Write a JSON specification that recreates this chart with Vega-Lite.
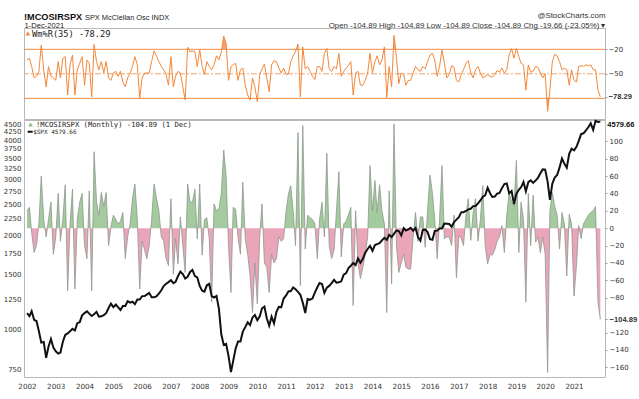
{
"$schema": "https://vega.github.io/schema/vega-lite/v6.json",
"background": "white",
"padding": {"left": 2, "right": 0, "top": 10, "bottom": 2},
"config": {"view": {"stroke": "#b8b8b8", "strokeWidth": 1}, "font": "Liberation Sans",
  "axis": {"grid": false, "labelFont": "DejaVu Sans", "labelFontSize": 7, "labelColor": "#333", "domain": false, "ticks": false, "minExtent": 0, "labelOverlap": false, "labelFlush": false}},
"title": {"text": "SPX McClellan Osc INDX", "anchor": "start", "frame": "group", "dx": 61, "offset": -11, "fontSize": 7.4, "fontWeight": "normal", "color": "#222", "font": "Liberation Sans"},
"bounds": "flush",
"spacing": 1,
"data": {"values": [
{"d":"2002-01-01","s":1130.2,"m":20,"w":-33},{"d":"2002-02-01","s":1106.73,"m":24,"w":-31},{"d":"2002-03-01","s":1147.39,"m":-5,"w":-41},{"d":"2002-04-01","s":1076.92,"m":-28,"w":-55},{"d":"2002-05-01","s":1067.14,"m":-20,"w":-53},{"d":"2002-06-01","s":989.82,"m":5,"w":-47},{"d":"2002-07-01","s":911.62,"m":60,"w":-15},{"d":"2002-08-01","s":916.07,"m":10,"w":-45},{"d":"2002-09-01","s":815.28,"m":-10,"w":-66},{"d":"2002-10-01","s":885.76,"m":10,"w":-41},{"d":"2002-11-01","s":936.31,"m":30,"w":-53},{"d":"2002-12-01","s":879.82,"m":-30,"w":-55},
{"d":"2003-01-01","s":855.7,"m":-10,"w":-58},{"d":"2003-02-01","s":841.15,"m":40,"w":-35},{"d":"2003-03-01","s":848.18,"m":-15,"w":-55},{"d":"2003-04-01","s":916.92,"m":10,"w":-31},{"d":"2003-05-01","s":963.59,"m":50,"w":-29},{"d":"2003-06-01","s":974.5,"m":-72,"w":-76},{"d":"2003-07-01","s":990.31,"m":5,"w":-39},{"d":"2003-08-01","s":1008.01,"m":45,"w":-27},{"d":"2003-09-01","s":995.97,"m":-70,"w":-76},{"d":"2003-10-01","s":1050.71,"m":10,"w":-45},{"d":"2003-11-01","s":1058.2,"m":30,"w":-37},{"d":"2003-12-01","s":1111.92,"m":40,"w":-29},
{"d":"2004-01-01","s":1131.13,"m":-20,"w":-64},{"d":"2004-02-01","s":1144.94,"m":-35,"w":-33},{"d":"2004-03-01","s":1126.21,"m":43,"w":-37},{"d":"2004-04-01","s":1107.3,"m":-72,"w":-78},{"d":"2004-05-01","s":1120.68,"m":88,"w":-14},{"d":"2004-06-01","s":1140.84,"m":30,"w":-35},{"d":"2004-07-01","s":1101.72,"m":15,"w":-45},{"d":"2004-08-01","s":1104.24,"m":41,"w":-35},{"d":"2004-09-01","s":1114.58,"m":25,"w":-49},{"d":"2004-10-01","s":1130.2,"m":41,"w":-35},{"d":"2004-11-01","s":1173.82,"m":-20,"w":-55},{"d":"2004-12-01","s":1211.92,"m":2,"w":-58},
{"d":"2005-01-01","s":1181.27,"m":15,"w":-49},{"d":"2005-02-01","s":1203.6,"m":10,"w":-47},{"d":"2005-03-01","s":1180.59,"m":5,"w":-53},{"d":"2005-04-01","s":1156.85,"m":8,"w":-47},{"d":"2005-05-01","s":1191.5,"m":18,"w":-60},{"d":"2005-06-01","s":1191.33,"m":-35,"w":-66},{"d":"2005-07-01","s":1234.18,"m":-10,"w":-55},{"d":"2005-08-01","s":1220.33,"m":5,"w":-49},{"d":"2005-09-01","s":1228.81,"m":35,"w":-41},{"d":"2005-10-01","s":1207.01,"m":51,"w":-29},{"d":"2005-11-01","s":1249.48,"m":10,"w":-39},{"d":"2005-12-01","s":1248.29,"m":-70,"w":-80},
{"d":"2006-01-01","s":1280.08,"m":-15,"w":-55},{"d":"2006-02-01","s":1280.66,"m":-25,"w":-49},{"d":"2006-03-01","s":1294.83,"m":-35,"w":-49},{"d":"2006-04-01","s":1310.61,"m":-20,"w":-49},{"d":"2006-05-01","s":1270.09,"m":10,"w":-35},{"d":"2006-06-01","s":1270.2,"m":51,"w":-22},{"d":"2006-07-01","s":1276.66,"m":35,"w":-28},{"d":"2006-08-01","s":1303.82,"m":20,"w":-35},{"d":"2006-09-01","s":1335.85,"m":-10,"w":-41},{"d":"2006-10-01","s":1377.94,"m":-15,"w":-45},{"d":"2006-11-01","s":1400.63,"m":-35,"w":-51},{"d":"2006-12-01","s":1418.3,"m":-43,"w":-64},
{"d":"2007-01-01","s":1438.24,"m":34,"w":-29},{"d":"2007-02-01","s":1406.82,"m":-53,"w":-66},{"d":"2007-03-01","s":1420.86,"m":-12,"w":-53},{"d":"2007-04-01","s":1482.37,"m":-41,"w":-47},{"d":"2007-05-01","s":1530.62,"m":13,"w":-49},{"d":"2007-06-01","s":1503.35,"m":-20,"w":-66},{"d":"2007-07-01","s":1455.27,"m":-51,"w":-82},{"d":"2007-08-01","s":1473.99,"m":51,"w":-17.5},{"d":"2007-09-01","s":1526.75,"m":30,"w":-23},{"d":"2007-10-01","s":1549.38,"m":30,"w":-22},{"d":"2007-11-01","s":1481.14,"m":45,"w":-23},{"d":"2007-12-01","s":1468.36,"m":-12,"w":-41},
{"d":"2008-01-01","s":1378.55,"m":51,"w":-20},{"d":"2008-02-01","s":1330.63,"m":-31,"w":-41},{"d":"2008-03-01","s":1322.7,"m":10,"w":-51},{"d":"2008-04-01","s":1385.59,"m":12,"w":-35},{"d":"2008-05-01","s":1400.38,"m":-12,"w":-41},{"d":"2008-06-01","s":1280.0,"m":-85,"w":-45},{"d":"2008-07-01","s":1267.38,"m":28,"w":-39},{"d":"2008-08-01","s":1282.83,"m":20,"w":-28},{"d":"2008-09-01","s":1166.36,"m":22,"w":-33},{"d":"2008-10-01","s":968.75,"m":40,"w":-23},{"d":"2008-11-01","s":896.24,"m":90,"w":-3.7},{"d":"2008-12-01","s":903.25,"m":60,"w":-12.7},
{"d":"2009-01-01","s":825.88,"m":-20,"w":-58},{"d":"2009-02-01","s":735.09,"m":-74,"w":-41},{"d":"2009-03-01","s":797.87,"m":24,"w":-39},{"d":"2009-04-01","s":872.81,"m":22,"w":-37},{"d":"2009-05-01","s":919.14,"m":-10,"w":-58},{"d":"2009-06-01","s":919.32,"m":-30,"w":-45},{"d":"2009-07-01","s":987.48,"m":53,"w":-43},{"d":"2009-08-01","s":1020.62,"m":-12,"w":-64},{"d":"2009-09-01","s":1057.08,"m":-30,"w":-76},{"d":"2009-10-01","s":1036.19,"m":-55,"w":-82},{"d":"2009-11-01","s":1095.63,"m":-97,"w":-55},{"d":"2009-12-01","s":1115.1,"m":-40,"w":-66},
{"d":"2010-01-01","s":1073.87,"m":-87,"w":-84},{"d":"2010-02-01","s":1104.49,"m":-10,"w":-51},{"d":"2010-03-01","s":1169.43,"m":28,"w":-44},{"d":"2010-04-01","s":1186.69,"m":-40,"w":-38},{"d":"2010-05-01","s":1089.41,"m":-45,"w":-55},{"d":"2010-06-01","s":1030.71,"m":-74,"w":-72},{"d":"2010-07-01","s":1101.6,"m":-30,"w":-39},{"d":"2010-08-01","s":1049.33,"m":-40,"w":-34},{"d":"2010-09-01","s":1141.2,"m":-35,"w":-35},{"d":"2010-10-01","s":1183.26,"m":-10,"w":-43},{"d":"2010-11-01","s":1180.55,"m":-15,"w":-49},{"d":"2010-12-01","s":1257.64,"m":-12,"w":-43},
{"d":"2011-01-01","s":1286.12,"m":20,"w":-51},{"d":"2011-02-01","s":1327.22,"m":40,"w":-50},{"d":"2011-03-01","s":1325.83,"m":49,"w":-35},{"d":"2011-04-01","s":1363.61,"m":20,"w":-28},{"d":"2011-05-01","s":1345.2,"m":-20,"w":-23},{"d":"2011-06-01","s":1320.64,"m":110,"w":-13.5},{"d":"2011-07-01","s":1292.28,"m":-66,"w":-78},{"d":"2011-08-01","s":1218.89,"m":118,"w":-17},{"d":"2011-09-01","s":1131.42,"m":-24,"w":-44},{"d":"2011-10-01","s":1253.3,"m":15,"w":-41},{"d":"2011-11-01","s":1246.96,"m":12,"w":-47},{"d":"2011-12-01","s":1257.6,"m":10,"w":-53},
{"d":"2012-01-01","s":1312.41,"m":5,"w":-57},{"d":"2012-02-01","s":1365.68,"m":-35,"w":-41},{"d":"2012-03-01","s":1408.47,"m":10,"w":-41},{"d":"2012-04-01","s":1397.91,"m":30,"w":-47},{"d":"2012-05-01","s":1310.33,"m":-10,"w":-25},{"d":"2012-06-01","s":1362.16,"m":86,"w":-19},{"d":"2012-07-01","s":1379.32,"m":-20,"w":-44},{"d":"2012-08-01","s":1406.58,"m":-35,"w":-47},{"d":"2012-09-01","s":1440.67,"m":-25,"w":-41},{"d":"2012-10-01","s":1412.16,"m":20,"w":-44},{"d":"2012-11-01","s":1416.18,"m":65,"w":-25},{"d":"2012-12-01","s":1426.19,"m":-33,"w":-53},
{"d":"2013-01-01","s":1498.11,"m":5,"w":-47},{"d":"2013-02-01","s":1514.68,"m":8,"w":-43},{"d":"2013-03-01","s":1569.19,"m":15,"w":-40},{"d":"2013-04-01","s":1597.57,"m":24,"w":-35},{"d":"2013-05-01","s":1630.74,"m":-89,"w":-76},{"d":"2013-06-01","s":1606.28,"m":20,"w":-49},{"d":"2013-07-01","s":1685.73,"m":-40,"w":-47},{"d":"2013-08-01","s":1632.97,"m":-58,"w":-64},{"d":"2013-09-01","s":1681.55,"m":-45,"w":-64},{"d":"2013-10-01","s":1756.54,"m":-30,"w":-58},{"d":"2013-11-01","s":1805.81,"m":-10,"w":-49},{"d":"2013-12-01","s":1848.36,"m":72,"w":-25},
{"d":"2014-01-01","s":1782.59,"m":20,"w":-49},{"d":"2014-02-01","s":1859.45,"m":55,"w":-35},{"d":"2014-03-01","s":1872.34,"m":18,"w":-28},{"d":"2014-04-01","s":1883.95,"m":50,"w":-39},{"d":"2014-05-01","s":1923.57,"m":20,"w":-33},{"d":"2014-06-01","s":1960.23,"m":5,"w":-17},{"d":"2014-07-01","s":1930.67,"m":-97,"w":-79},{"d":"2014-08-01","s":2003.37,"m":43,"w":-41},{"d":"2014-09-01","s":1972.29,"m":-64,"w":-66},{"d":"2014-10-01","s":2018.05,"m":120,"w":-3},{"d":"2014-11-01","s":2067.56,"m":-20,"w":-30},{"d":"2014-12-01","s":2058.9,"m":-51,"w":-62},
{"d":"2015-01-01","s":1994.99,"m":-40,"w":-49},{"d":"2015-02-01","s":2104.5,"m":-30,"w":-51},{"d":"2015-03-01","s":2067.89,"m":-45,"w":-64},{"d":"2015-04-01","s":2085.51,"m":-47,"w":-58},{"d":"2015-05-01","s":2107.39,"m":-47,"w":-58},{"d":"2015-06-01","s":2063.11,"m":-10,"w":-49},{"d":"2015-07-01","s":2103.84,"m":18,"w":-41},{"d":"2015-08-01","s":1972.18,"m":-15,"w":-45},{"d":"2015-09-01","s":1920.03,"m":13,"w":-47},{"d":"2015-10-01","s":2079.36,"m":13,"w":-41},{"d":"2015-11-01","s":2080.41,"m":-22,"w":-44},{"d":"2015-12-01","s":2043.94,"m":20,"w":-35},
{"d":"2016-01-01","s":1940.24,"m":61,"w":-27},{"d":"2016-02-01","s":1932.23,"m":40,"w":-25},{"d":"2016-03-01","s":2059.74,"m":10,"w":-33},{"d":"2016-04-01","s":2065.3,"m":-35,"w":-53},{"d":"2016-05-01","s":2096.95,"m":10,"w":-41},{"d":"2016-06-01","s":2098.86,"m":72,"w":-21},{"d":"2016-07-01","s":2173.6,"m":-12,"w":-37},{"d":"2016-08-01","s":2170.95,"m":-10,"w":-55},{"d":"2016-09-01","s":2168.27,"m":-10,"w":-51},{"d":"2016-10-01","s":2126.15,"m":-20,"w":-40},{"d":"2016-11-01","s":2198.81,"m":15,"w":-42},{"d":"2016-12-01","s":2238.83,"m":-57,"w":-58},
{"d":"2017-01-01","s":2278.87,"m":-8,"w":-60},{"d":"2017-02-01","s":2363.64,"m":-12,"w":-51},{"d":"2017-03-01","s":2362.72,"m":-20,"w":-45},{"d":"2017-04-01","s":2384.2,"m":15,"w":-37},{"d":"2017-05-01","s":2411.8,"m":34,"w":-34},{"d":"2017-06-01","s":2423.41,"m":-14,"w":-49},{"d":"2017-07-01","s":2470.3,"m":18,"w":-55},{"d":"2017-08-01","s":2471.65,"m":34,"w":-45},{"d":"2017-09-01","s":2519.36,"m":-15,"w":-41},{"d":"2017-10-01","s":2575.26,"m":10,"w":-49},{"d":"2017-11-01","s":2647.58,"m":49,"w":-55},{"d":"2017-12-01","s":2673.61,"m":-20,"w":-53},
{"d":"2018-01-01","s":2823.81,"m":-41,"w":-51},{"d":"2018-02-01","s":2713.83,"m":-30,"w":-53},{"d":"2018-03-01","s":2640.87,"m":-31,"w":-54},{"d":"2018-04-01","s":2648.05,"m":-25,"w":-51},{"d":"2018-05-01","s":2705.27,"m":-15,"w":-46},{"d":"2018-06-01","s":2718.37,"m":-10,"w":-48},{"d":"2018-07-01","s":2816.29,"m":3,"w":-43},{"d":"2018-08-01","s":2901.52,"m":-28,"w":-49},{"d":"2018-09-01","s":2913.98,"m":15,"w":-45},{"d":"2018-10-01","s":2711.74,"m":41,"w":-27},{"d":"2018-11-01","s":2760.17,"m":30,"w":-19},{"d":"2018-12-01","s":2506.85,"m":25,"w":-31},
{"d":"2019-01-01","s":2704.1,"m":78,"w":-19},{"d":"2019-02-01","s":2784.49,"m":-28,"w":-29},{"d":"2019-03-01","s":2834.4,"m":30,"w":-37},{"d":"2019-04-01","s":2945.83,"m":10,"w":-39},{"d":"2019-05-01","s":2752.06,"m":-85,"w":-70},{"d":"2019-06-01","s":2941.76,"m":40,"w":-39},{"d":"2019-07-01","s":2980.38,"m":-20,"w":-48},{"d":"2019-08-01","s":2926.46,"m":38,"w":-47},{"d":"2019-09-01","s":2976.74,"m":-16,"w":-41},{"d":"2019-10-01","s":3037.56,"m":-10,"w":-42},{"d":"2019-11-01","s":3140.98,"m":-28,"w":-49},{"d":"2019-12-01","s":3230.78,"m":-10,"w":-55},
{"d":"2020-01-01","s":3225.52,"m":-30,"w":-50},{"d":"2020-02-01","s":2954.22,"m":-166,"w":-96},{"d":"2020-03-01","s":2584.59,"m":20,"w":-70},{"d":"2020-04-01","s":2912.43,"m":41,"w":-35},{"d":"2020-05-01","s":3044.31,"m":25,"w":-26},{"d":"2020-06-01","s":3100.29,"m":15,"w":-28},{"d":"2020-07-01","s":3271.12,"m":-24,"w":-35},{"d":"2020-08-01","s":3500.31,"m":18,"w":-45},{"d":"2020-09-01","s":3363.0,"m":5,"w":-43},{"d":"2020-10-01","s":3269.96,"m":-55,"w":-45},{"d":"2020-11-01","s":3621.63,"m":16,"w":-64},{"d":"2020-12-01","s":3756.07,"m":5,"w":-45},
{"d":"2021-01-01","s":3714.24,"m":-78,"w":-58},{"d":"2021-02-01","s":3811.15,"m":-43,"w":-60},{"d":"2021-03-01","s":3972.89,"m":3,"w":-41},{"d":"2021-04-01","s":4181.17,"m":-12,"w":-40},{"d":"2021-05-01","s":4204.11,"m":5,"w":-41},{"d":"2021-06-01","s":4297.5,"m":10,"w":-39},{"d":"2021-07-01","s":4395.26,"m":15,"w":-40},{"d":"2021-08-01","s":4522.68,"m":18,"w":-39},{"d":"2021-09-01","s":4307.54,"m":20,"w":-45},{"d":"2021-10-01","s":4605.38,"m":25,"w":-45},{"d":"2021-11-01","s":4567.0,"m":-85.23,"w":-70},{"d":"2021-12-01","s":4579.66,"m":-104.89,"w":-78.29}
]},
"vconcat": [
{
 "width": 581, "height": 91,
 "title": {"text": "!MCOSIRSPX", "anchor": "start", "frame": "group", "offset": -11, "font": "Liberation Sans", "fontSize": 9.2, "fontWeight": "bold", "color": "#111"},
 "layer": [
  {"mark": {"type": "area", "interpolate": "linear", "fill": {"gradient": "linear", "x1": 0, "y1": 0, "x2": 0, "y2": 1, "stops": [{"offset": 0, "color": "#f5a36c"}, {"offset": 0.1828, "color": "#f5a36c"}, {"offset": 0.1828, "color": "rgba(255,255,255,0)"}, {"offset": 0.828, "color": "rgba(255,255,255,0)"}, {"offset": 0.828, "color": "#f5a36c"}, {"offset": 1, "color": "#f5a36c"}]}},
   "encoding": {
    "x": {"field": "d", "type": "temporal", "scale": {"domain": [{"year": 2001, "month": 11, "date": 24}, {"year": 2022, "month": 1, "date": 29}]},
      "axis": {"orient": "top", "labels": false, "ticks": false, "domain": false, "grid": false, "title": ["@StockCharts.com", "Open -104.89  High -104.89  Low -104.89  Close -104.89  Chg -19.66 (-23.05%) \u25be"], "titleAnchor": "end", "titleAlign": "right", "titlePadding": -1, "titleFont": "Liberation Sans", "titleFontSize": 7.9, "titleFontWeight": "normal", "titleColor": "#333", "titleLineHeight": 10}},
    "y": {"field": "w", "type": "quantitative", "scale": {"domain": [-105.3, 6.1], "nice": false, "zero": false},
      "axis": {"orient": "right", "values": [-20, -50, -78.29], "tickCount": 100, "format": ".2~f", "ticks": true, "tickSize": 2, "tickColor": "#999", "labelPadding": 1, "title": null, "labelOverlap": false, "labelFontWeight": {"condition": {"test": "datum.value < -70", "value": "bold"}, "value": "normal"}, "labelFont": {"condition": {"test": "datum.value < -70", "value": "Liberation Sans"}, "value": "DejaVu Sans"}, "labelFontSize": {"condition": {"test": "datum.value < -70", "value": 7.6}, "value": 7}}},
    "y2": {"datum": -50}}},
  {"data": {"values": [{}]}, "mark": {"type": "rule", "color": "#f08c46", "strokeWidth": 1}, "encoding": {"y": {"datum": -20, "axis": {"orient": "left", "labels": false, "ticks": false, "domain": false, "grid": false, "title": "1-Dec-2021", "titleAngle": 0, "titleAlign": "left", "titleBaseline": "alphabetic", "titleX": 0, "titleY": -0.3, "titleFont": "Liberation Sans", "titleFontSize": 7.6, "titleFontWeight": "normal", "titleColor": "#222"}}}},
  {"data": {"values": [{}]}, "mark": {"type": "rule", "color": "#f08c46", "strokeWidth": 1}, "encoding": {"y": {"datum": -80, "axis": null}}},
  {"data": {"values": [{}]}, "mark": {"type": "rule", "color": "#f4a46e", "strokeWidth": 1, "strokeDash": [6, 2, 2, 2]}, "encoding": {"y": {"datum": -50, "axis": null}}},
  {"mark": {"type": "line", "color": "#f4883a", "strokeWidth": 1}, "encoding": {"x": {"field": "d", "type": "temporal"}, "y": {"field": "w", "type": "quantitative", "axis": null}}},
  {"data": {"values": [{}]}, "mark": {"type": "text", "font": "DejaVu Sans Mono", "fontSize": 8.7, "align": "left", "baseline": "middle", "color": "#222"}, "encoding": {"x": {"datum": {"year": 2002, "month": 3, "date": 5}, "type": "temporal"}, "y": {"datum": -1, "axis": null}, "text": {"value": "Wm%R(35) -78.29"}}},
  {"data": {"values": [{}]}, "mark": {"type": "point", "shape": "triangle-up", "filled": true, "color": "#f4883a", "size": 22, "opacity": 1}, "encoding": {"x": {"datum": {"year": 2002, "month": 1, "date": 12}, "type": "temporal"}, "y": {"datum": -0.5, "axis": null}}}
 ],
 "resolve": {"axis": {"y": "independent"}}
},
{
 "width": 581, "height": 257,
 "layer": [
  {"layer": [
    {"mark": {"type": "area", "interpolate": "linear", "fill": {"gradient": "linear", "x1": 0, "y1": 0, "x2": 0, "y2": 1, "stops": [{"offset": 0, "color": "#a3cb9e"}, {"offset": 0.4196, "color": "#a3cb9e"}, {"offset": 0.4196, "color": "#eba5ba"}, {"offset": 1, "color": "#eba5ba"}]}},
     "encoding": {
      "x": {"field": "d", "type": "temporal", "scale": {"domain": [{"year": 2001, "month": 11, "date": 24}, {"year": 2022, "month": 1, "date": 29}]},
        "axis": {"orient": "bottom", "format": "%Y", "values": [{"year": 2002}, {"year": 2003}, {"year": 2004}, {"year": 2005}, {"year": 2006}, {"year": 2007}, {"year": 2008}, {"year": 2009}, {"year": 2010}, {"year": 2011}, {"year": 2012}, {"year": 2013}, {"year": 2014}, {"year": 2015}, {"year": 2016}, {"year": 2017}, {"year": 2018}, {"year": 2019}, {"year": 2020}, {"year": 2021}], "tickCount": 100, "labelPadding": 5, "title": null, "labelFontSize": 7.2, "labelOverlap": false}},
      "y": {"field": "m", "type": "quantitative", "scale": {"domain": [-171.2, 124.5], "nice": false, "zero": false},
        "axis": {"orient": "right", "values": [100, 80, 60, 40, 20, 0, -20, -40, -60, -80, -104.89, -120, -140, -160], "tickCount": 100, "format": ".2~f", "ticks": true, "tickSize": 2, "tickColor": "#999", "labelPadding": 2, "title": null, "labelOverlap": false, "labelFontWeight": {"condition": {"test": "datum.value == -104.89", "value": "bold"}, "value": "normal"}, "labelFont": {"condition": {"test": "datum.value == -104.89", "value": "Liberation Sans"}, "value": "DejaVu Sans"}, "labelFontSize": {"condition": {"test": "datum.value == -104.89", "value": 7.6}, "value": 7}}},
      "y2": {"datum": 0}}},
    {"mark": {"type": "line", "color": "#8d988d", "strokeWidth": 0.8}, "encoding": {"x": {"field": "d", "type": "temporal"}, "y": {"field": "m", "type": "quantitative"}}},
    {"data": {"values": [{}]}, "mark": {"type": "text", "font": "DejaVu Sans Mono", "fontSize": 7.2, "align": "left", "baseline": "middle", "color": "#222"}, "encoding": {"x": {"datum": {"year": 2002, "month": 4, "date": 25}, "type": "temporal"}, "y": {"datum": 119}, "text": {"value": "!MCOSIRSPX (Monthly) -104.89 (1 Dec)"}}},
    {"data": {"values": [{}]}, "mark": {"type": "text", "font": "DejaVu Sans Mono", "fontSize": 6, "align": "left", "baseline": "middle", "color": "#222"}, "encoding": {"x": {"datum": {"year": 2002, "month": 3, "date": 20}, "type": "temporal"}, "y": {"datum": 111}, "text": {"value": "$SPX 4579.66"}}},
    {"data": {"values": [{}]}, "mark": {"type": "point", "shape": "triangle-up", "filled": true, "color": "#8fbf8a", "size": 22, "opacity": 1}, "encoding": {"x": {"datum": {"year": 2002, "month": 2, "date": 15}, "type": "temporal"}, "y": {"datum": 119.5}}},
    {"data": {"values": [{}]}, "mark": {"type": "point", "shape": "stroke", "filled": false, "color": "#111", "strokeWidth": 2, "size": 25, "opacity": 1}, "encoding": {"x": {"datum": {"year": 2002, "month": 2, "date": 10}, "type": "temporal"}, "y": {"datum": 111}}}
  ]},
  {"layer": [
    {"mark": {"type": "line", "color": "#111", "strokeWidth": 2}, "encoding": {"x": {"field": "d", "type": "temporal"}, "y": {"field": "s", "type": "quantitative", "scale": {"type": "log", "domain": [709, 4634], "nice": false, "zero": false},
      "axis": {"orient": "left", "values": [750, 1000, 1250, 1500, 1750, 2000, 2250, 2500, 2750, 3000, 3250, 3500, 3750, 4000, 4250, 4500], "tickCount": 100, "format": "d", "labelPadding": 3, "title": null, "labelOverlap": false}}}},
    {"data": {"values": [{}]}, "mark": {"type": "text", "align": "left", "baseline": "middle", "dx": 7, "dy": 3, "font": "Liberation Sans", "fontSize": 7.5, "fontWeight": "bold", "color": "#111"}, "encoding": {"x": {"datum": {"year": 2021, "month": 12, "date": 1}, "type": "temporal"}, "y": {"datum": 4579.66}, "text": {"value": "4579.66"}}}
  ]}
 ],
 "resolve": {"scale": {"y": "independent"}, "axis": {"y": "independent"}}
}
]
}
